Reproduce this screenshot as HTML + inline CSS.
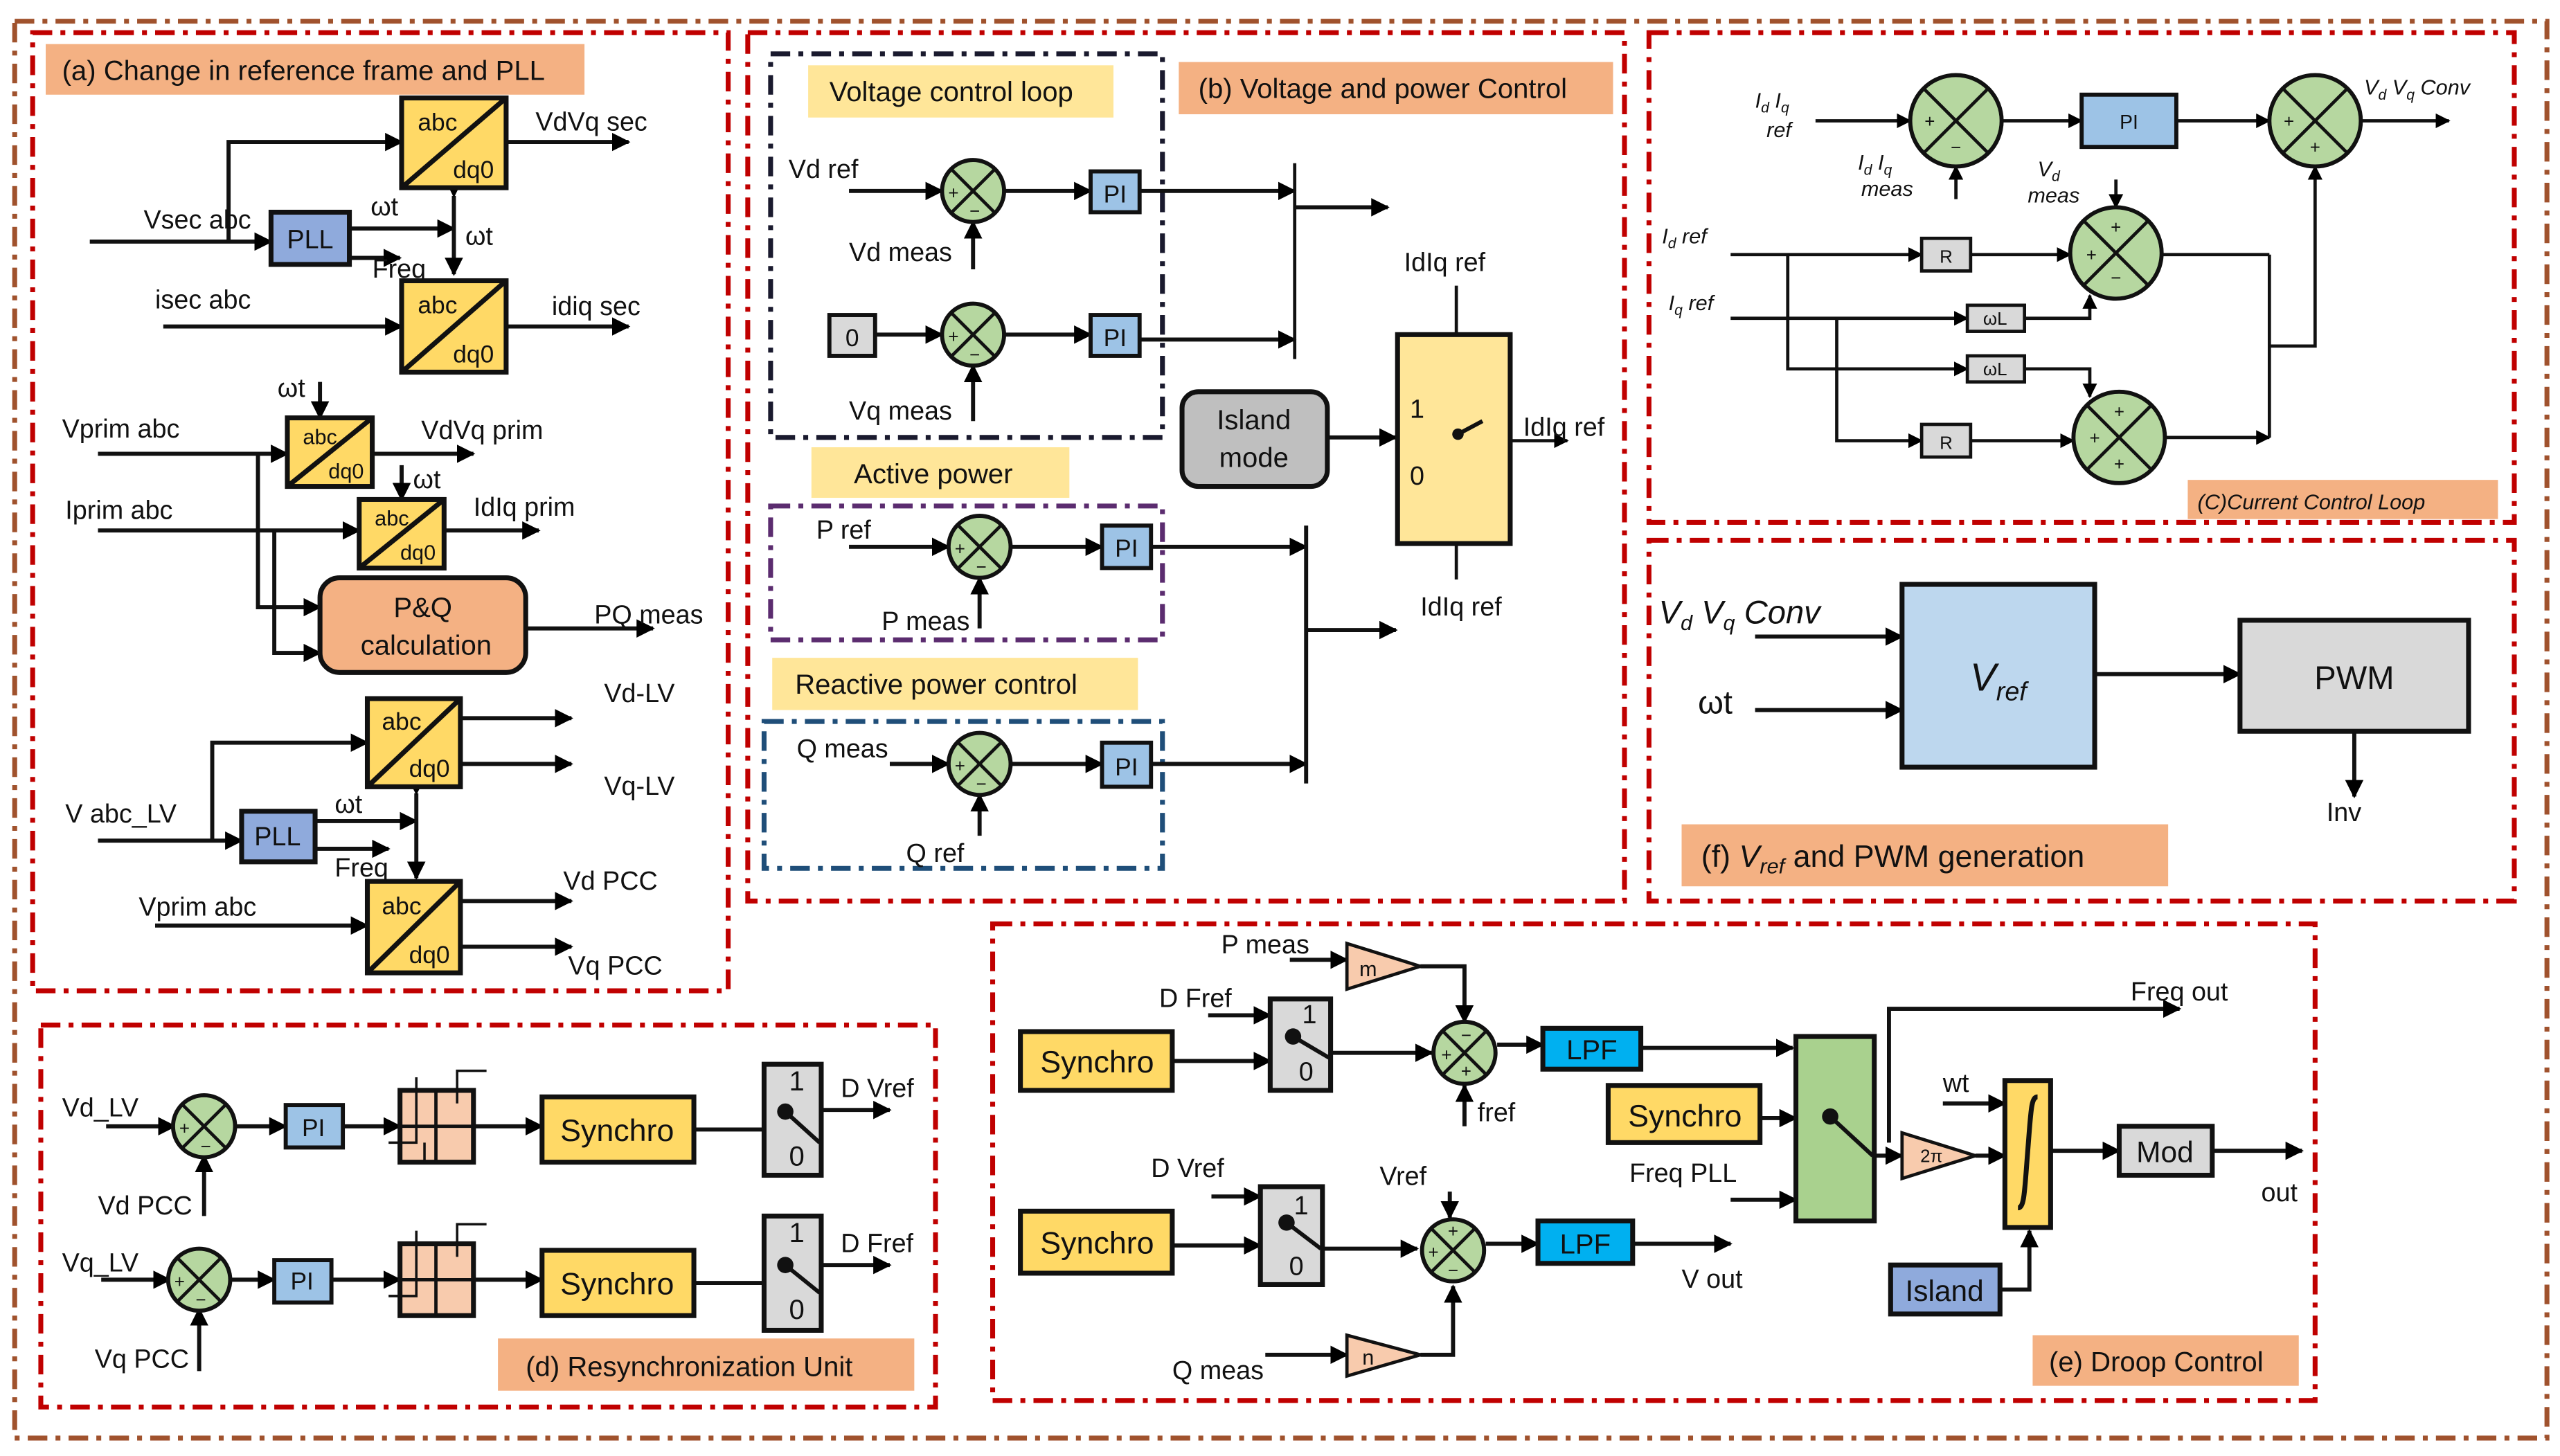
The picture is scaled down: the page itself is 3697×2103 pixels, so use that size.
<!DOCTYPE html>
<html><head><meta charset="utf-8"><style>
html,body{margin:0;padding:0;background:#fff}
svg{display:block}
text{font-family:"Liberation Sans Narrow","Liberation Sans",sans-serif;fill:#111}
</style></head><body>
<svg width="3697" height="2103" viewBox="0 0 1568 892" preserveAspectRatio="none" xmlns="http://www.w3.org/2000/svg">
<defs>
<marker id="a" viewBox="0 0 10 10" refX="9" refY="5" markerWidth="4.5" markerHeight="4.5" orient="auto"><path d="M0,0L10,5L0,10z" fill="#000"/></marker>
<g id="sum"><circle r="19" fill="#b6d7a0" stroke="#111" stroke-width="2.5"/><path d="M-13,-13L13,13M13,-13L-13,13" stroke="#111" stroke-width="2"/></g>
<g id="sumL"><circle r="28" fill="#b6d7a0" stroke="#111" stroke-width="2.5"/><path d="M-20,-20L20,20M20,-20L-20,20" stroke="#111" stroke-width="2"/></g>
</defs>
<rect width="1568" height="892" fill="#fff"/>
<rect x="9" y="13" width="1551" height="868" fill="none" stroke="#a0522d" stroke-width="3" stroke-dasharray="12,5,3,5"/>
<g fill="none" stroke="#c00000" stroke-width="3" stroke-dasharray="12,5,3,5">
<rect x="20" y="20" width="426" height="587"/>
<rect x="458" y="20" width="537" height="532"/>
<rect x="1010" y="20" width="530" height="300"/>
<rect x="1010" y="331" width="530" height="221"/>
<rect x="25" y="628" width="548" height="234"/>
<rect x="608" y="566" width="810" height="292"/>
</g>
<g fill="none" stroke-width="3" stroke-dasharray="12,5,3,5">
<rect x="472" y="33" width="240" height="235" stroke="#1a1a2e"/>
<rect x="472" y="310" width="240" height="82" stroke="#5b2c6f"/>
<rect x="468" y="442" width="244" height="90" stroke="#1f4e79"/>
</g>
<rect x="28" y="27" width="330" height="31" fill="#f4b183"/><text x="38" y="49" font-size="17">(a) Change in reference frame and PLL</text>
<rect x="722" y="38" width="266" height="32" fill="#f4b183"/><text x="734" y="60" font-size="17">(b) Voltage and power Control</text>
<rect x="495" y="40" width="187" height="32" fill="#ffe699"/><text x="508" y="62" font-size="17">Voltage control loop</text>
<rect x="497" y="274" width="158" height="31" fill="#ffe699"/><text x="523" y="296" font-size="17">Active power</text>
<rect x="473" y="403" width="224" height="32" fill="#ffe699"/><text x="487" y="425" font-size="17">Reactive power control</text>
<rect x="1340" y="294" width="190" height="24" fill="#f4b183"/><text x="1346" y="312" font-size="13" font-style="italic">(C)Current Control Loop</text>
<rect x="1030" y="505" width="298" height="38" fill="#f4b183"/><text x="1042" y="531" font-size="19">(f) <tspan font-style="italic">V</tspan><tspan font-size="13" font-style="italic" dy="4">ref</tspan><tspan dy="-4"> and PWM generation</tspan></text>
<rect x="305" y="820" width="255" height="32" fill="#f4b183"/><text x="322" y="843" font-size="17">(d) Resynchronization Unit</text>
<rect x="1245" y="818" width="163" height="31" fill="#f4b183"/><text x="1255" y="840" font-size="17">(e) Droop Control</text>

<g stroke="#111" stroke-width="2.5" fill="none">
<path d="M55,148H166" marker-end="url(#a)"/><path d="M140,148V87H246" marker-end="url(#a)"/>
<path d="M214,140H278" marker-end="url(#a)"/><path d="M214,158H245" marker-end="url(#a)"/>
<path d="M278,120V168" marker-end="url(#a)" marker-start="url(#a)"/>
<path d="M310,87H385" marker-end="url(#a)"/>
<path d="M100,200H246" marker-end="url(#a)"/><path d="M310,200H385" marker-end="url(#a)"/>
<path d="M196,234V256" marker-end="url(#a)"/><path d="M60,278H176" marker-end="url(#a)"/>
<path d="M228,278H290" marker-end="url(#a)"/>
<path d="M246,285V306" marker-end="url(#a)"/><path d="M60,325H220" marker-end="url(#a)"/>
<path d="M272,325H330" marker-end="url(#a)"/>
<path d="M158,278V372H196" marker-end="url(#a)"/><path d="M168,325V400H196" marker-end="url(#a)"/>
<path d="M322,385H400" marker-end="url(#a)"/>
<path d="M282,440H350" marker-end="url(#a)"/><path d="M282,468H350" marker-end="url(#a)"/>
<path d="M60,515H148" marker-end="url(#a)"/><path d="M130,515V455H225" marker-end="url(#a)"/>
<path d="M193,503H255" marker-end="url(#a)"/><path d="M193,520H238" marker-end="url(#a)"/>
<path d="M255,486V538" marker-end="url(#a)" marker-start="url(#a)"/>
<path d="M95,567H225" marker-end="url(#a)"/>
<path d="M282,552H350" marker-end="url(#a)"/><path d="M282,580H350" marker-end="url(#a)"/>
<path d="M520,117H577" marker-end="url(#a)"/><path d="M596,165V136" marker-end="url(#a)"/>
<path d="M615,117H668" marker-end="url(#a)"/><path d="M698,117H793" marker-end="url(#a)"/>
<path d="M536,205H577" marker-end="url(#a)"/><path d="M596,258V224" marker-end="url(#a)"/>
<path d="M615,205H668" marker-end="url(#a)"/><path d="M698,208H793" marker-end="url(#a)"/>
<path d="M793,100V220" stroke-width="2"/><path d="M793,127H850" marker-end="url(#a)"/>
<path d="M520,335H581" marker-end="url(#a)"/><path d="M600,385V354" marker-end="url(#a)"/>
<path d="M619,335H675" marker-end="url(#a)"/><path d="M705,335H800" marker-end="url(#a)"/>
<path d="M545,468H581" marker-end="url(#a)"/><path d="M600,512V487" marker-end="url(#a)"/>
<path d="M619,468H675" marker-end="url(#a)"/><path d="M705,468H800" marker-end="url(#a)"/>
<path d="M800,322V480"/><path d="M800,386H855" marker-end="url(#a)"/>
<path d="M813,268H855" marker-end="url(#a)"/>
<path d="M892,175V237" stroke-width="2" marker-end="url(#a)"/><path d="M892,355V313" stroke-width="2" marker-end="url(#a)"/>
<path d="M925,270H960" stroke-width="2" marker-end="url(#a)"/>
<g stroke-width="2">
<path d="M1112,74H1170" marker-end="url(#a)"/><path d="M1198,122V102" marker-end="url(#a)"/>
<path d="M1226,74H1275" marker-end="url(#a)"/><path d="M1333,74H1390" marker-end="url(#a)"/>
<path d="M1446,74H1500" marker-end="url(#a)"/>
<path d="M1296,110V127" marker-end="url(#a)"/>
<path d="M1060,156H1177" marker-end="url(#a)"/><path d="M1207,156H1268" marker-end="url(#a)"/>
<path d="M1060,195H1205" marker-end="url(#a)"/>
<path d="M1095,156V226H1205" marker-end="url(#a)"/>
<path d="M1125,195V270H1177" marker-end="url(#a)"/>
<path d="M1207,270H1270" marker-end="url(#a)"/>
<path d="M1240,195H1280V181" marker-end="url(#a)"/>
<path d="M1240,226H1280V243" marker-end="url(#a)"/>
<path d="M1324,156H1390"/><path d="M1326,268H1390" marker-end="url(#a)"/>
<path d="M1390,156V268"/>
<path d="M1390,212H1418V102" marker-end="url(#a)"/>
</g>
<path d="M1075,390H1165" marker-end="url(#a)"/><path d="M1075,435H1165" marker-end="url(#a)"/>
<path d="M1283,413H1372" marker-end="url(#a)"/><path d="M1442,448V488" marker-end="url(#a)"/>
<path d="M65,690H107" marker-end="url(#a)"/><path d="M125,745V708" marker-end="url(#a)"/>
<path d="M143,690H175" marker-end="url(#a)"/><path d="M210,690H245" marker-end="url(#a)"/>
<path d="M290,690H332" marker-end="url(#a)"/><path d="M425,692H470"/>
<path d="M503,680H545" marker-end="url(#a)"/>
<path d="M62,784H104" marker-end="url(#a)"/><path d="M122,840V802" marker-end="url(#a)"/>
<path d="M140,784H168" marker-end="url(#a)"/><path d="M203,784H245" marker-end="url(#a)"/>
<path d="M290,784H332" marker-end="url(#a)"/><path d="M425,786H470"/>
<path d="M503,775H545" marker-end="url(#a)"/>
<path d="M718,650H778" marker-end="url(#a)"/><path d="M740,622H778" marker-end="url(#a)"/>
<path d="M790,588H825" marker-end="url(#a)"/><path d="M870,592H897V626" marker-end="url(#a)"/>
<path d="M815,645H877" marker-end="url(#a)"/><path d="M897,690V665" marker-end="url(#a)"/>
<path d="M917,640H945" marker-end="url(#a)"/><path d="M1005,642H1098" marker-end="url(#a)"/>
<path d="M1157,700V618H1335" marker-end="url(#a)"/>
<path d="M1078,685H1100" marker-end="url(#a)"/><path d="M1060,735H1100" marker-end="url(#a)"/>
<path d="M1148,708H1165" marker-end="url(#a)"/><path d="M1210,708H1228" marker-end="url(#a)"/>
<path d="M1190,676H1228" marker-end="url(#a)"/>
<path d="M1256,705H1298" marker-end="url(#a)"/><path d="M1355,705H1410" marker-end="url(#a)"/>
<path d="M1225,790H1243V754" marker-end="url(#a)"/>
<path d="M718,763H772" marker-end="url(#a)"/><path d="M742,733H772" marker-end="url(#a)"/>
<path d="M810,765H868" marker-end="url(#a)"/><path d="M888,730V746" marker-end="url(#a)"/>
<path d="M775,830H825" marker-end="url(#a)"/><path d="M870,830H890V788" marker-end="url(#a)"/>
<path d="M910,762H942" marker-end="url(#a)"/><path d="M1000,762H1060" marker-end="url(#a)"/>
</g>

<g stroke="#111" stroke-width="3">
<g fill="#ffd966">
<rect x="246" y="60" width="64" height="55"/><rect x="246" y="172" width="64" height="56"/>
<rect x="176" y="256" width="52" height="42"/><rect x="220" y="306" width="52" height="42"/>
<rect x="225" y="428" width="57" height="54"/><rect x="225" y="540" width="57" height="56"/>
</g>
<path d="M246,115L310,60M246,228L310,172M176,298L228,256M220,348L272,306M225,482L282,428M225,596L282,540" fill="none"/>
<g fill="#8faadc"><rect x="166" y="130" width="48" height="32"/><rect x="148" y="497" width="45" height="31"/><rect x="1158" y="775" width="67" height="30"/></g>
<rect x="196" y="354" width="126" height="58" rx="12" fill="#f4b183"/>
<g fill="#9dc3e6" stroke-width="2.5">
<rect x="668" y="105" width="30" height="25"/><rect x="668" y="193" width="30" height="25"/>
<rect x="675" y="322" width="30" height="26"/><rect x="675" y="455" width="30" height="27"/>
<rect x="1275" y="58" width="58" height="32"/><rect x="175" y="677" width="35" height="26"/><rect x="168" y="772" width="35" height="26"/>
</g>
<rect x="508" y="193" width="28" height="25" fill="#d9d9d9" stroke-width="2.5"/>
<rect x="724" y="240" width="89" height="58" rx="10" fill="#bfbfbf"/>
<rect x="856" y="205" width="69" height="128" fill="#ffe699"/>
<g fill="#d9d9d9" stroke-width="2"><rect x="1177" y="146" width="30" height="20"/><rect x="1177" y="260" width="30" height="20"/><rect x="1205" y="187" width="35" height="16"/><rect x="1205" y="218" width="35" height="16"/></g>
<rect x="1165" y="358" width="118" height="112" fill="#bdd7ee"/>
<rect x="1372" y="380" width="140" height="68" fill="#d9d9d9"/>
<g fill="#ffd966"><rect x="332" y="672" width="93" height="40"/><rect x="332" y="766" width="93" height="40"/>
<rect x="625" y="632" width="93" height="36"/><rect x="625" y="742" width="93" height="38"/><rect x="985" y="665" width="93" height="35"/>
<rect x="1228" y="662" width="28" height="90"/></g>
<g fill="#d9d9d9"><rect x="468" y="652" width="35" height="68"/><rect x="468" y="745" width="35" height="70"/>
<rect x="778" y="612" width="37" height="56"/><rect x="772" y="727" width="38" height="60"/><rect x="1298" y="690" width="57" height="30"/></g>
<g fill="#f8cbad"><rect x="245" y="668" width="45" height="44"/><rect x="245" y="762" width="45" height="44"/></g>
<path d="M245,690H290M267,668V712M245,784H290M267,762V806" fill="none" stroke-width="2"/>
<g fill="#00b0f0"><rect x="945" y="630" width="60" height="25"/><rect x="942" y="748" width="58" height="26"/></g>
<rect x="1100" y="635" width="48" height="113" fill="#a9d18e"/>
<g fill="#f8cbad" stroke-width="2"><path d="M825,578L870,592L825,606z"/><path d="M825,818L870,830L825,843z"/><path d="M1165,694L1210,708L1165,722z"/></g>
</g>
<!-- switch levers (on top) -->
<g stroke="#111" stroke-width="2.5" fill="none">
<path d="M893,266L908,258"/>
<path d="M481,681L502,700M481,775L502,792"/>
<path d="M792,635L814,648M788,749L809,765M1121,684L1147,708"/>
</g>
<path d="M238,700H255V660M260,700V712M280,676V656H298M238,794H255V754M280,770V750H298" stroke="#111" stroke-width="1.5" fill="none"/>
<g fill="#111"><circle cx="893" cy="266" r="3.5"/><circle cx="481" cy="681" r="5"/><circle cx="481" cy="775" r="5"/><circle cx="792" cy="635" r="5"/><circle cx="788" cy="749" r="5"/><circle cx="1121" cy="684" r="5"/></g>
<path d="M1236,740C1240,740 1240,730 1242,705C1244,680 1244,672 1248,672" stroke="#111" stroke-width="3" fill="none"/>
<use href="#sum" x="596" y="117"/><use href="#sum" x="596" y="205"/><use href="#sum" x="600" y="335"/><use href="#sum" x="600" y="468"/>
<use href="#sum" x="125" y="690"/><use href="#sum" x="122" y="784"/><use href="#sum" x="897" y="645"/><use href="#sum" x="890" y="766"/>
<use href="#sumL" x="1198" y="74"/><use href="#sumL" x="1418" y="74"/><use href="#sumL" x="1296" y="155"/><use href="#sumL" x="1298" y="268"/>
<g font-size="11" font-family="Liberation Sans" text-anchor="middle">
<text x="584" y="122">+</text><text x="597" y="133">−</text><text x="584" y="210">+</text><text x="597" y="221">−</text>
<text x="588" y="340">+</text><text x="601" y="351">−</text><text x="588" y="473">+</text><text x="601" y="484">−</text>
<text x="113" y="695">+</text><text x="126" y="706">−</text><text x="110" y="789">+</text><text x="123" y="800">−</text>
<text x="898" y="638">−</text><text x="886" y="650">+</text><text x="898" y="660">+</text>
<text x="890" y="758">+</text><text x="878" y="771">+</text><text x="890" y="782">−</text>
<text x="1182" y="78">+</text><text x="1198" y="94">−</text><text x="1402" y="78">+</text><text x="1418" y="94">+</text>
<text x="1296" y="143">+</text><text x="1281" y="160">+</text><text x="1296" y="174">−</text>
<text x="1298" y="256">+</text><text x="1283" y="272">+</text><text x="1298" y="288">+</text>
</g>
<g font-size="15" text-anchor="middle">
<text x="268" y="80">abc</text><text x="290" y="109">dq0</text><text x="268" y="192">abc</text><text x="290" y="222">dq0</text>
<text x="196" y="272" font-size="13">abc</text><text x="212" y="293" font-size="13">dq0</text>
<text x="240" y="322" font-size="13">abc</text><text x="256" y="343" font-size="13">dq0</text>
<text x="246" y="447">abc</text><text x="263" y="476">dq0</text><text x="246" y="560">abc</text><text x="263" y="590">dq0</text>
<text x="190" y="152" font-size="16">PLL</text><text x="170" y="518" font-size="16">PLL</text>
<text x="259" y="378" font-size="17">P&amp;Q</text><text x="261" y="401" font-size="17">calculation</text>
<text x="683" y="124">PI</text><text x="683" y="212">PI</text><text x="690" y="341">PI</text><text x="690" y="475">PI</text>
<text x="522" y="212">0</text><text x="768" y="263" font-size="17">Island</text><text x="768" y="286" font-size="17">mode</text>
<text x="868" y="256" font-size="16">1</text><text x="868" y="297" font-size="16">0</text>
<text x="1304" y="79" font-size="12">PI</text><text x="1192" y="161" font-size="11">R</text><text x="1192" y="275" font-size="11">R</text>
<text x="1222" y="199" font-size="11">ωL</text><text x="1222" y="230" font-size="11">ωL</text>
<text x="1224" y="423" font-size="24" font-style="italic">V<tspan font-size="16" dy="6">ref</tspan></text>
<text x="1442" y="422" font-size="20">PWM</text>
<text x="192" y="696">PI</text><text x="185" y="790">PI</text>
<text x="378" y="699" font-size="19">Synchro</text><text x="378" y="793" font-size="19">Synchro</text>
<text x="672" y="657" font-size="19">Synchro</text><text x="672" y="768" font-size="19">Synchro</text><text x="1032" y="690" font-size="19">Synchro</text>
<text x="488" y="668" font-size="17">1</text><text x="488" y="714" font-size="17">0</text><text x="488" y="761" font-size="17">1</text><text x="488" y="808" font-size="17">0</text>
<text x="802" y="627" font-size="16">1</text><text x="800" y="662" font-size="16">0</text><text x="797" y="744" font-size="16">1</text><text x="794" y="781" font-size="16">0</text>
<text x="975" y="649" font-size="17">LPF</text><text x="971" y="768" font-size="17">LPF</text>
<text x="1326" y="712" font-size="18">Mod</text><text x="1191" y="797" font-size="18">Island</text>
<text x="838" y="598" font-size="13">m</text><text x="838" y="836" font-size="13">n</text><text x="1183" y="712" font-size="11">2π</text>
</g>
<g font-size="16">
<text x="328" y="80">VdVq sec</text><text x="88" y="140">Vsec abc</text><text x="227" y="132">ωt</text><text x="228" y="170">Freq</text><text x="285" y="150">ωt</text>
<text x="95" y="189">isec abc</text><text x="338" y="193">idiq sec</text>
<text x="170" y="243">ωt</text><text x="38" y="268">Vprim abc</text><text x="258" y="269">VdVq prim</text>
<text x="253" y="299">ωt</text><text x="40" y="318">Iprim abc</text><text x="290" y="316">IdIq prim</text><text x="364" y="382">PQ meas</text>
<text x="370" y="430">Vd-LV</text><text x="370" y="487">Vq-LV</text><text x="40" y="504">V abc_LV</text><text x="205" y="498">ωt</text><text x="205" y="537">Freq</text>
<text x="85" y="561">Vprim abc</text><text x="345" y="545">Vd PCC</text><text x="348" y="597">Vq PCC</text>
<text x="483" y="109">Vd ref</text><text x="520" y="160">Vd meas</text><text x="520" y="257">Vq meas</text>
<text x="500" y="330">P ref</text><text x="540" y="386">P meas</text><text x="488" y="464">Q meas</text><text x="555" y="528">Q ref</text>
<text x="860" y="166">IdIq ref</text><text x="933" y="267">IdIq ref</text><text x="870" y="377">IdIq ref</text>
<text x="38" y="684">Vd_LV</text><text x="60" y="744">Vd PCC</text><text x="515" y="672">D Vref</text>
<text x="38" y="779">Vq_LV</text><text x="58" y="838">Vq PCC</text><text x="515" y="767">D Fref</text>
<text x="748" y="584">P meas</text><text x="710" y="617">D Fref</text><text x="905" y="687">fref</text>
<text x="1305" y="613">Freq out</text><text x="1190" y="669">wt</text><text x="998" y="724">Freq PLL</text><text x="1385" y="736">out</text>
<text x="705" y="721">D Vref</text><text x="845" y="726">Vref</text><text x="1030" y="789">V out</text><text x="718" y="845">Q meas</text>
<text x="1425" y="503">Inv</text>
</g>
<text x="1040" y="437" font-size="20">ωt</text>
<text x="1016" y="382" font-size="20" font-style="italic">V<tspan font-size="13" dy="4">d</tspan><tspan dy="-4"> V</tspan><tspan font-size="13" dy="4">q</tspan><tspan dy="-4"> Conv</tspan></text>
<g font-size="13" font-style="italic" font-family="Liberation Serif">
<text x="1075" y="66">I<tspan font-size="9" dy="3">d</tspan><tspan dy="-3"> I</tspan><tspan font-size="9" dy="3">q</tspan></text><text x="1082" y="84">ref</text>
<text x="1138" y="104">I<tspan font-size="9" dy="3">d</tspan><tspan dy="-3"> I</tspan><tspan font-size="9" dy="3">q</tspan></text><text x="1140" y="120">meas</text>
<text x="1248" y="108">V<tspan font-size="9" dy="3">d</tspan></text><text x="1242" y="124">meas</text>
<text x="1018" y="149">I<tspan font-size="9" dy="3">d</tspan><tspan dy="-3"> ref</tspan></text>
<text x="1022" y="190">I<tspan font-size="9" dy="3">q</tspan><tspan dy="-3"> ref</tspan></text>
<text x="1448" y="58">V<tspan font-size="9" dy="3">d</tspan><tspan dy="-3"> V</tspan><tspan font-size="9" dy="3">q</tspan><tspan dy="-3"> Conv</tspan></text>
</g>
</svg>
</body></html>
